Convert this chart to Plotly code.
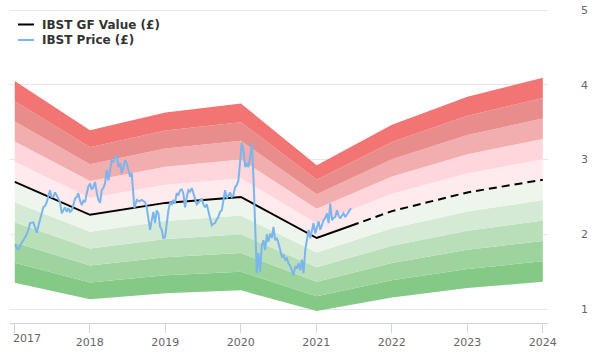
import plotly.graph_objects as go
import numpy as np
import pandas as pd

# ---------------- data ----------------
gf_dates = ["2017-01-03", "2018-01-02", "2019-01-02", "2020-01-02",
            "2021-01-03", "2022-01-02", "2023-01-02", "2024-01-02"]
gf_values = [2.70, 2.26, 2.42, 2.50, 1.95, 2.31, 2.56, 2.73]

band_multipliers = [0.5, 0.6, 0.7, 0.8, 0.9, 1.0, 1.1, 1.2, 1.3, 1.4, 1.5]
band_colors = ["#84c985", "#9dd39d", "#b9dfb9", "#d5ead5", "#edf5ed",
               "#ffebee", "#ffd6db", "#f2aeae", "#e88c8c", "#f27573"]

# price: decimal-year dates and values (£)
price_t = [2017.009, 2017.036, 2017.053, 2017.076, 2017.119, 2017.155, 2017.186, 2017.208,
           2017.252, 2017.274, 2017.297, 2017.321, 2017.341, 2017.367, 2017.384, 2017.407,
           2017.430, 2017.453, 2017.473, 2017.493, 2017.517, 2017.540, 2017.562, 2017.586,
           2017.606, 2017.628, 2017.652, 2017.672, 2017.695, 2017.716, 2017.738, 2017.761,
           2017.785, 2017.805, 2017.827, 2017.848, 2017.871, 2017.894, 2017.915, 2017.937,
           2017.960, 2017.981, 2018.004, 2018.026, 2018.047, 2018.070, 2018.092, 2018.114,
           2018.136, 2018.159, 2018.180, 2018.202, 2018.225, 2018.246, 2018.268, 2018.291,
           2018.312, 2018.335, 2018.358, 2018.379, 2018.401, 2018.424, 2018.445, 2018.468,
           2018.490, 2018.511, 2018.534, 2018.556, 2018.578, 2018.591, 2018.623, 2018.653,
           2018.689, 2018.710, 2018.733, 2018.755, 2018.776, 2018.799, 2018.822, 2018.843,
           2018.865, 2018.888, 2018.909, 2018.932, 2018.954, 2018.975, 2018.998, 2019.020,
           2019.042, 2019.064, 2019.087, 2019.108, 2019.130, 2019.153, 2019.174, 2019.197,
           2019.219, 2019.240, 2019.263, 2019.286, 2019.307, 2019.329, 2019.352, 2019.373,
           2019.396, 2019.418, 2019.439, 2019.462, 2019.485, 2019.506, 2019.528, 2019.551,
           2019.572, 2019.594, 2019.617, 2019.638, 2019.661, 2019.683, 2019.704, 2019.727,
           2019.750, 2019.771, 2019.793, 2019.816, 2019.837, 2019.860, 2019.882, 2019.903,
           2019.926, 2019.948, 2019.970, 2019.992, 2020.015, 2020.036, 2020.059, 2020.081,
           2020.102, 2020.125, 2020.148, 2020.169, 2020.191, 2020.214, 2020.235, 2020.257,
           2020.280, 2020.301, 2020.324, 2020.346, 2020.367, 2020.390, 2020.413, 2020.434,
           2020.456, 2020.479, 2020.500, 2020.522, 2020.545, 2020.566, 2020.589, 2020.611,
           2020.632, 2020.655, 2020.678, 2020.699, 2020.721, 2020.744, 2020.765, 2020.788,
           2020.810, 2020.831, 2020.854, 2020.877, 2020.898, 2020.920, 2020.943, 2020.964,
           2020.986, 2021.009, 2021.030, 2021.053, 2021.075, 2021.097, 2021.119, 2021.142,
           2021.163, 2021.185, 2021.208, 2021.229, 2021.252, 2021.274, 2021.295, 2021.318,
           2021.340, 2021.361, 2021.384, 2021.407, 2021.428, 2021.460]
price_v = [1.86, 1.82, 1.79, 1.85, 1.92, 1.98, 2.06, 2.15,
           2.16, 2.08, 2.02, 2.12, 2.19, 2.30, 2.36, 2.38,
           2.43, 2.52, 2.59, 2.50, 2.50, 2.56, 2.52, 2.46,
           2.43, 2.28, 2.33, 2.36, 2.30, 2.35, 2.30, 2.32,
           2.40, 2.48, 2.50, 2.55, 2.45, 2.39, 2.45, 2.43,
           2.55, 2.64, 2.68, 2.60, 2.63, 2.70, 2.56, 2.46,
           2.42, 2.59, 2.62, 2.68, 2.86, 2.72, 2.85, 2.99,
           2.96, 3.03, 3.06, 2.90, 2.95, 2.82, 2.90, 2.99,
           2.95, 2.86, 2.77, 2.82, 2.50, 2.35, 2.46, 2.44,
           2.46, 2.45, 2.43, 2.36, 2.19, 2.06, 2.19, 2.30,
           2.15, 2.32, 2.28, 2.10, 2.06, 1.95, 1.96, 2.15,
           2.32, 2.42, 2.40, 2.46, 2.42, 2.55, 2.52, 2.59,
           2.60, 2.55, 2.36, 2.50, 2.59, 2.57, 2.62, 2.55,
           2.46, 2.40, 2.42, 2.45, 2.48, 2.40, 2.36, 2.40,
           2.32, 2.20, 2.12, 2.14, 2.15, 2.20, 2.23, 2.30,
           2.32, 2.45, 2.59, 2.48, 2.52, 2.56, 2.50, 2.52,
           2.63, 2.66, 2.72, 2.99, 3.22, 3.13, 2.90, 2.95,
           2.90, 3.03, 3.22, 2.77, 2.10, 1.48, 1.75, 1.50,
           1.85, 1.92, 1.79, 2.00, 1.90, 2.01, 1.95, 2.10,
           1.92, 1.95, 1.88, 1.80, 1.70, 1.72, 1.66, 1.68,
           1.61, 1.58, 1.52, 1.45, 1.57, 1.55, 1.61, 1.52,
           1.66, 1.48, 1.79, 1.97, 2.06, 1.95, 2.08, 2.15,
           2.01, 2.10, 2.17, 2.06, 2.12, 2.19, 2.22, 2.28,
           2.15, 2.41, 2.19, 2.22, 2.23, 2.32, 2.25, 2.21,
           2.25, 2.28, 2.23, 2.27, 2.30, 2.35]

year_ticks = [2017, 2018, 2019, 2020, 2021, 2022, 2023, 2024]
y_ticks = [1, 2, 3, 4, 5]


def dec_to_date(t):
    y = int(np.floor(t))
    start = pd.Timestamp(year=y, month=1, day=1)
    end = pd.Timestamp(year=y + 1, month=1, day=1)
    return start + (end - start) * (t - y)


price_dates = [dec_to_date(t) for t in price_t]
gf_dt = pd.to_datetime(gf_dates)

# ---------------- figure ----------------
fig = go.Figure()

gf_arr = np.array(gf_values)
for i, m in enumerate(band_multipliers):
    fig.add_trace(go.Scatter(
        x=gf_dt, y=gf_arr * m, mode="lines",
        line=dict(width=0, color="rgba(0,0,0,0)"),
        fill="tonexty" if i > 0 else None,
        fillcolor=band_colors[i - 1] if i > 0 else None,
        hoverinfo="skip", showlegend=False))

# split GF line into solid (history) and dashed (projection) at the last price date
last_date = price_dates[-1]
gf_num = gf_dt.astype("int64").to_numpy().astype(float)
split_val = float(np.interp(last_date.value, gf_num, gf_arr))
hist_mask = gf_dt <= last_date
solid_x = list(gf_dt[hist_mask]) + [last_date]
solid_y = list(gf_arr[hist_mask]) + [split_val]
dash_x = [last_date] + list(gf_dt[~hist_mask])
dash_y = [split_val] + list(gf_arr[~hist_mask])

fig.add_trace(go.Scatter(x=solid_x, y=solid_y, mode="lines",
                         line=dict(color="#000000", width=2), showlegend=False))
fig.add_trace(go.Scatter(x=dash_x, y=dash_y, mode="lines",
                         line=dict(color="#000000", width=2, dash="8px,5px"),
                         showlegend=False))
fig.add_trace(go.Scatter(x=price_dates, y=price_v, mode="lines",
                         line=dict(color="#7cb5ec", width=2), showlegend=False))

# ---------------- layout ----------------
W, H = 600, 360
ML, MR, MT, MB = 10, 52, 8, 37
PW, PH = W - ML - MR, H - MT - MB


def px(xp):
    return (xp - ML) / PW


def py(yp):
    return (H - MB - yp) / PH


tickvals = [pd.Timestamp(year=y, month=1, day=1) for y in year_ticks]
ticktext = ["" if y == year_ticks[0] else str(y) for y in year_ticks]

annotations = [
    dict(x=px(10.5), y=py(338), xref="paper", yref="paper", text=str(year_ticks[0]),
         showarrow=False, xanchor="left", yanchor="middle",
         font=dict(family="DejaVu Sans", size=11, color="#666666")),
    dict(x=px(40), y=py(24.5), xref="paper", yref="paper", text="<b>IBST GF Value (£)</b>",
         showarrow=False, xanchor="left", yanchor="middle",
         font=dict(family="DejaVu Sans", size=12, color="#333333")),
    dict(x=px(40), y=py(40), xref="paper", yref="paper", text="<b>IBST Price (£)</b>",
         showarrow=False, xanchor="left", yanchor="middle",
         font=dict(family="DejaVu Sans", size=12, color="#333333")),
]
shapes = [
    dict(type="line", xref="paper", yref="paper", x0=px(18), x1=px(34), y0=py(24.5), y1=py(24.5),
         line=dict(color="#000000", width=2)),
    dict(type="line", xref="paper", yref="paper", x0=px(18), x1=px(34), y0=py(40), y1=py(40),
         line=dict(color="#7cb5ec", width=2)),
]

fig.update_layout(
    width=W, height=H,
    margin=dict(l=ML, r=MR, t=MT, b=MB, pad=0),
    paper_bgcolor="white", plot_bgcolor="white",
    showlegend=False,
    font=dict(family="DejaVu Sans", size=11, color="#666666"),
    annotations=annotations, shapes=shapes,
    xaxis=dict(type="date", range=["2016-12-11", "2024-01-27"],
               tickvals=tickvals, ticktext=ticktext,
               ticks="outside", ticklen=9, tickcolor="#ccd6eb", tickwidth=1,
               showline=True, linecolor="#ccd6eb", linewidth=1,
               showgrid=False, zeroline=False, automargin=False,
               tickfont=dict(family="DejaVu Sans", size=11, color="#666666")),
    yaxis=dict(side="right", range=[0.813, 5.027], tickvals=y_ticks,
               showgrid=True, gridcolor="#e6e6e6", gridwidth=1,
               zeroline=False, showline=False, ticks="",
               ticklabelstandoff=32, automargin=False,
               tickfont=dict(family="DejaVu Sans", size=11, color="#666666")),
)

fig.write_html("out.html",
               config={"displayModeBar": False},
               post_script="document.body.style.margin='0';document.body.style.padding='0';")
